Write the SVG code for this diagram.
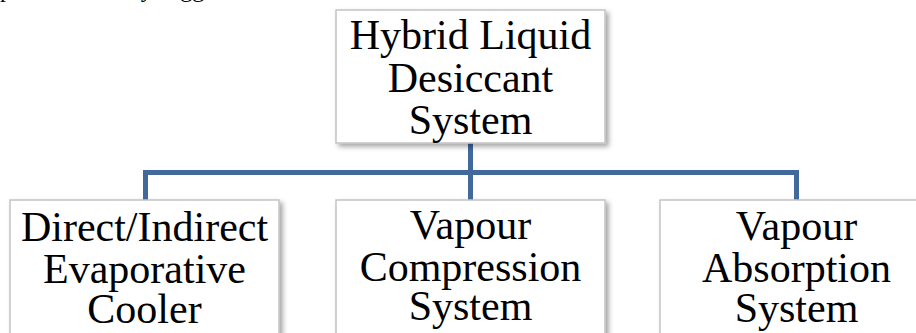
<svg xmlns="http://www.w3.org/2000/svg" width="916" height="333" viewBox="0 0 916 333">
<defs>
<filter id="sh" x="-10%" y="-10%" width="125%" height="130%">
<feDropShadow dx="3" dy="3" stdDeviation="2.5" flood-color="#000" flood-opacity="0.35"/>
</filter>
</defs>
<style>
.box{fill:#fff;stroke:#c4c4c4;stroke-width:1.5;filter:url(#sh)}
.lbl{font-family:"Liberation Serif","Times New Roman",serif;font-size:42px;fill:#000;text-anchor:middle}
.con{fill:none;stroke:#41699b;stroke-width:5;stroke-linejoin:miter}
.top{font-family:"Liberation Serif","Times New Roman",serif;font-size:24px;fill:#000}
</style>
<rect width="916" height="333" fill="#fff"/>
<text class="top" x="0" y="-3">processes. They suggested the listed</text>
<g id="connectors">
<path class="con" d="M470.5,143 V172.5"/>
<path class="con" d="M145.5,200 V172.5 H796.5 V200"/>
<path class="con" d="M470.5,172.5 V200"/>
</g>
<g id="n-top">
<rect class="box" x="336" y="10" width="269" height="133"/>
<text class="lbl" x="470.5" y="49">Hybrid Liquid</text>
<text class="lbl" x="470.5" y="92">Desiccant</text>
<text class="lbl" x="470.5" y="134">System</text>
</g>
<g id="n-evap">
<rect class="box" x="10" y="200" width="269" height="150"/>
<text class="lbl" x="144.5" y="241">Direct/Indirect</text>
<text class="lbl" x="144.5" y="283">Evaporative</text>
<text class="lbl" x="144.5" y="323">Cooler</text>
</g>
<g id="n-vc">
<rect class="box" x="336" y="200" width="269" height="150"/>
<text class="lbl" x="470.5" y="239">Vapour</text>
<text class="lbl" x="470.5" y="281">Compression</text>
<text class="lbl" x="470.5" y="320">System</text>
</g>
<g id="n-va">
<rect class="box" x="660" y="200" width="269" height="150"/>
<text class="lbl" x="796.5" y="240">Vapour</text>
<text class="lbl" x="796.5" y="282">Absorption</text>
<text class="lbl" x="796.5" y="322">System</text>
</g>
</svg>
